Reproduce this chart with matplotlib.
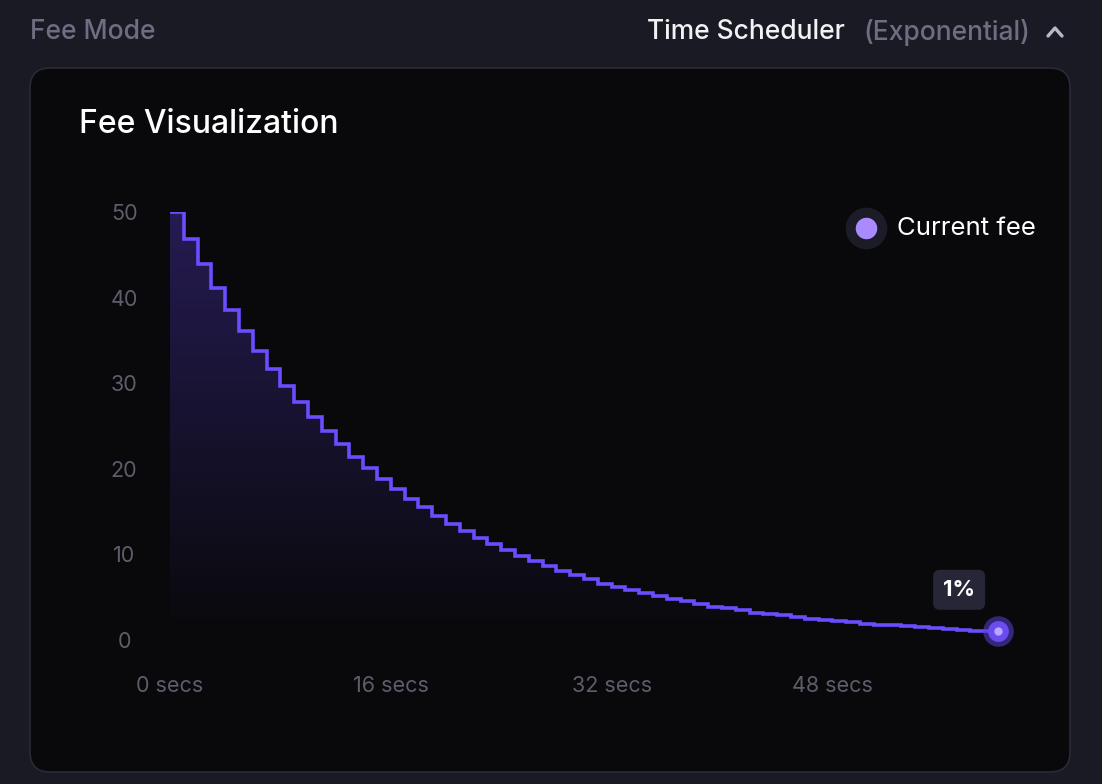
import matplotlib.pyplot as plt
import numpy as np
from matplotlib.patches import FancyBboxPatch

plt.rcParams['font.family'] = ['Inter', 'DejaVu Sans']

# fee per second step
seconds = list(range(61))
fee = [50.0, 46.8, 43.9, 41.1, 38.5, 36.1, 33.8, 31.7, 29.7, 27.8,
       26.1, 24.4, 22.9, 21.4, 20.1, 18.8, 17.6, 16.5, 15.5, 14.5,
       13.6, 12.7, 11.9, 11.2, 10.5, 9.8, 9.2, 8.6, 8.1, 7.6,
       7.1, 6.6, 6.2, 5.8, 5.5, 5.1, 4.8, 4.5, 4.2, 3.9,
       3.7, 3.5, 3.2, 3.0, 2.9, 2.7, 2.5, 2.3, 2.2, 2.1,
       1.9, 1.8, 1.7, 1.6, 1.5, 1.4, 1.3, 1.2, 1.1, 1.1, 1.0]
x_ticks = [0, 16, 32, 48]
x_labels = ["0 secs", "16 secs", "32 secs", "48 secs"]
y_ticks = [0, 10, 20, 30, 40, 50]

W, H = 1102, 784
fig = plt.figure(figsize=(W / 100, H / 100), dpi=100)
fig.patch.set_facecolor("#1a1a25")

bg = fig.add_axes([0, 0, 1, 1], zorder=-5)
bg.set_xlim(0, W)
bg.set_ylim(H, 0)
bg.axis("off")
bg.add_patch(FancyBboxPatch((30, 68), 1040, 704,
                            boxstyle="round,pad=0,rounding_size=20",
                            facecolor="#09090b", edgecolor="#2a2a36", linewidth=1.2))
bg.text(30, 32, "Fee Mode", color="#6e6e82", fontsize=19, fontweight="medium", va="center")
bg.text(1030, 32, "(Exponential)", color="#6e6e82", fontsize=19, fontweight="medium",
        va="center", ha="right")
bg.text(845, 32, "Time Scheduler", color="#f2f2f5", fontsize=19, fontweight="medium",
        va="center", ha="right")
bg.plot([1048, 1055, 1062], [36, 28, 36], color="#b8b8c8", lw=2.4,
        solid_capstyle="round", solid_joinstyle="round")
bg.text(79, 124, "Fee Visualization", color="#ffffff", fontsize=23, fontweight="medium",
        va="center")
bg.scatter([866], [228], s=900, color="#1c1c28", lw=0)
bg.scatter([866], [228], s=240, color="#a98bff", lw=0)
bg.text(897, 228, "Current fee", color="#ffffff", fontsize=18.5, va="center")

ax = fig.add_axes([170 / W, (H - 640) / H, 828 / W, 428 / H])
ax.set_facecolor("none")
ax.set_xlim(0, 60)
ax.set_ylim(0, 50)
for s in ax.spines.values():
    s.set_visible(False)

xs = np.array(seconds, dtype=float)
ys = np.array(fee)
ax.step(xs, ys, where="post", color="#6c4cff", linewidth=2.6, solid_joinstyle="miter")

poly = ax.fill_between(xs, ys, 0, step="post", color="none")
grad = np.linspace(0.35, 0.0, 256).reshape(-1, 1)
cmap_img = np.zeros((256, 1, 4))
cmap_img[..., 0] = 0.36
cmap_img[..., 1] = 0.24
cmap_img[..., 2] = 0.85
cmap_img[..., 3] = grad
img = ax.imshow(cmap_img, extent=[0, 60, 0, 50], aspect="auto", origin="upper", zorder=0)
img.set_clip_path(poly.get_paths()[0], transform=ax.transData)

ax.plot([xs[-1]], [ys[-1]], "o", ms=22, color="#5b3fd6", alpha=0.55, clip_on=False, mew=0)
ax.plot([xs[-1]], [ys[-1]], "o", ms=15, color="#6a4cf0", clip_on=False, mew=0)
ax.plot([xs[-1]], [ys[-1]], "o", ms=6, color="#b9a7ff", clip_on=False, mew=0)

ax.annotate("1%", (xs[-1], ys[-1]), xytext=(-28, 30), textcoords="offset points",
            color="white", fontsize=16, fontweight="bold", ha="center", va="center",
            bbox=dict(boxstyle="round,pad=0.45,rounding_size=0.3", fc="#262636", ec="none"))

ax.set_xticks(x_ticks)
ax.set_xticklabels(x_labels)
ax.set_yticks(y_ticks)
ax.tick_params(length=0, colors="#5d5d6c", labelsize=15.5)
ax.tick_params(axis="x", pad=26)
for lbl in ax.get_yticklabels():
    lbl.set_horizontalalignment("center")
ax.tick_params(axis="y", pad=33)

fig.savefig("out.png", dpi=100, facecolor=fig.get_facecolor())
